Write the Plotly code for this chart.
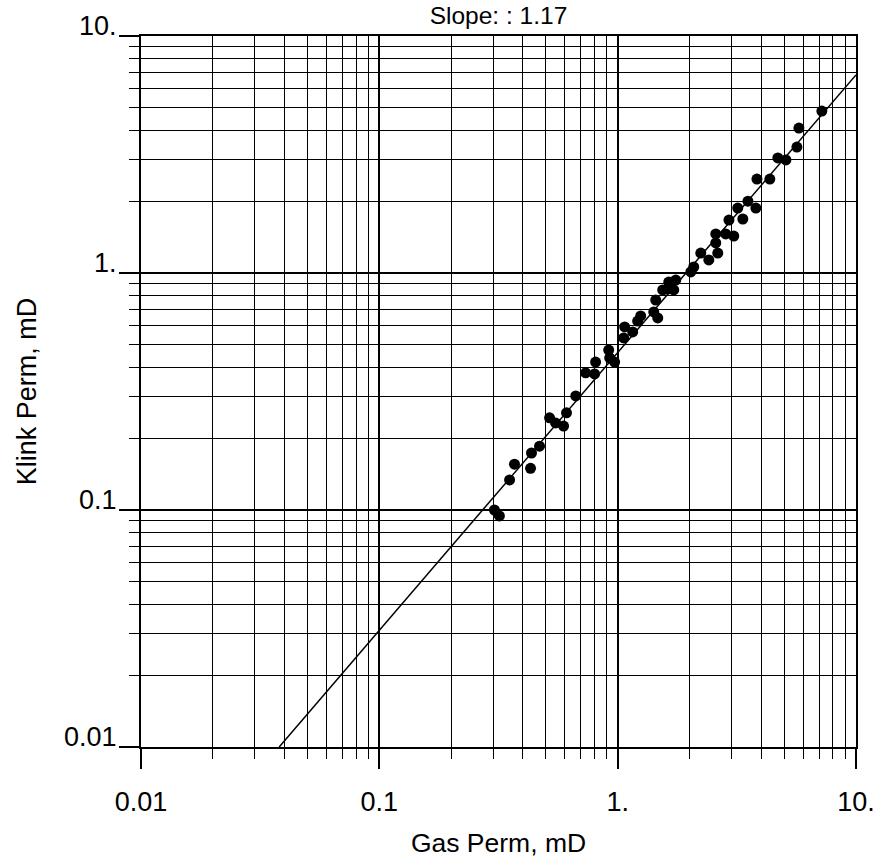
import plotly.graph_objects as go

gas_perm = [0.304, 0.319, 0.352, 0.369, 0.431, 0.435, 0.470, 0.518, 0.549, 0.593,
            0.610, 0.667, 0.734, 0.800, 0.808, 0.917, 0.926, 0.971, 1.06, 1.07,
            1.156, 1.213, 1.249, 1.417, 1.444, 1.473, 1.545, 1.622, 1.638, 1.719,
            1.753, 2.027, 2.085, 2.232, 2.412, 2.58, 2.58, 2.63, 2.84, 2.93,
            3.07, 3.19, 3.35, 3.52, 3.80, 3.84, 4.35, 4.70, 5.08, 5.65,
            5.76, 7.19]
klink_perm = [0.100, 0.0944, 0.134, 0.156, 0.150, 0.174, 0.186, 0.245, 0.233, 0.226,
              0.257, 0.303, 0.379, 0.375, 0.421, 0.473, 0.438, 0.421, 0.532, 0.592,
              0.564, 0.627, 0.659, 0.685, 0.769, 0.646, 0.848, 0.856, 0.916, 0.848,
              0.934, 1.01, 1.06, 1.214, 1.135, 1.339, 1.461, 1.214, 1.461, 1.673,
              1.432, 1.88, 1.69, 2.01, 1.88, 2.49, 2.49, 3.06, 3.00, 3.40,
              4.09, 4.82]

fit_x = [0.038, 10.0]
fit_y = [0.01, 6.85]

tick_vals = [0.01, 0.1, 1, 10]
tick_text = ["0.01", "0.1", "1.", "10."]
slope_text = "Slope: : 1.17"

FONT = "Liberation Sans, Arial, sans-serif"

fig = go.Figure()
fig.add_trace(go.Scatter(x=fit_x, y=fit_y, mode="lines",
                         line=dict(color="black", width=1.5), showlegend=False))
fig.add_trace(go.Scatter(x=gas_perm, y=klink_perm, mode="markers",
                         marker=dict(color="black", size=11), showlegend=False))

axis_common = dict(
    type="log", range=[-2, 1], tickvals=tick_vals, ticktext=tick_text,
    showgrid=True, gridcolor="black", gridwidth=1.5,
    showline=True, linecolor="black", linewidth=2, mirror=True,
    ticks="outside", ticklen=20, tickwidth=1.5, tickcolor="black",
    tickfont=dict(family=FONT, size=27, color="black"),
    minor=dict(dtick="D1", showgrid=True, gridcolor="black", gridwidth=1,
               ticks="outside", ticklen=10, tickwidth=1, tickcolor="black"),
    zeroline=False, automargin=False, ticklabeloverflow="allow",
)

fig.update_xaxes(**axis_common, ticklabelstandoff=10,
                 title=dict(text="Gas Perm, mD", font=dict(family=FONT, size=26.5, color="black"), standoff=17))
fig.update_yaxes(**axis_common, ticklabelstandoff=-3, ticklabelshift=-10,
                 title=dict(text="Klink Perm, mD", font=dict(family=FONT, size=27, color="black"), standoff=20))

fig.update_layout(
    width=877, height=865,
    margin=dict(l=141, r=21, t=36, b=118),
    paper_bgcolor="white", plot_bgcolor="white",
    title=dict(text=slope_text, x=0.5, xref="paper", y=0.982, yanchor="middle",
               font=dict(family=FONT, size=24.5, color="black")),
)

fig.write_html("out.html", config={"displayModeBar": False},
               post_script="document.body.style.margin='0';document.body.style.overflow='hidden';")
